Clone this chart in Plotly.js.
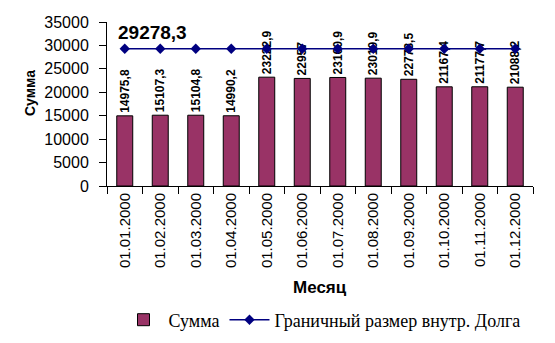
<!DOCTYPE html>
<html>
<head>
<meta charset="utf-8">
<script src="https://cdn.plot.ly/plotly-3.0.1.min.js"></script>
<style>html,body{margin:0;padding:0;background:#fff;}#chart{width:555px;height:343px;}</style>
</head>
<body>
<div id="chart"></div>
<script>
var months = ["01.01.2000","01.02.2000","01.03.2000","01.04.2000","01.05.2000","01.06.2000","01.07.2000","01.08.2000","01.09.2000","01.10.2000","01.11.2000","01.12.2000"];
var sums = [14975.8, 15107.3, 15104.8, 14990.2, 23222.9, 22957, 23160.9, 23010.9, 22773.5, 21167.4, 21177.7, 21088.2];
var sumLabels = ["14975,8","15107,3","15104,8","14990,2","23222,9","22957","23160,9","23010,9","22773,5","21167,4","21177,7","21088,2"];
var limitValues = [29278.3, 29278.3, 29278.3, 29278.3, 29278.3, 29278.3, 29278.3, 29278.3, 29278.3, 29278.3, 29278.3, 29278.3];
var limitLabel = "29278,3";
var yTicks = [0, 5000, 10000, 15000, 20000, 25000, 30000, 35000];

var traces = [
  {
    type: "bar", name: "Сумма", x: months, y: sums,
    text: sumLabels, textposition: "outside", textangle: -90,
    constraintext: "none",
    textfont: {family: "Liberation Sans, Arial", size: 12, color: "#000", weight: "bold"},
    cliponaxis: false,
    marker: {color: "#993366", line: {color: "#000", width: 1}}
  },
  {
    type: "scatter", mode: "lines+markers", name: "Граничный размер внутр. Долга",
    x: months, y: limitValues,
    line: {color: "#000080", width: 1.5},
    marker: {symbol: "diamond", size: 8, color: "#000080"},
    cliponaxis: false
  }
];

var L = 107, R = 22, T = 22, B = 157;
var pw = 555 - L - R, ph = 343 - T - B;
function px(x) { return (x - L) / pw; }
function py(y) { return (343 - B - y) / ph; }
var xr = [-0.5, months.length - 0.5];
var boundaries = [];
for (var i = 0; i <= months.length; i++) boundaries.push(i - 0.5);

var layout = {
  width: 555, height: 343,
  margin: {l: L, r: R, t: T, b: B, autoexpand: false},
  paper_bgcolor: "#fff", plot_bgcolor: "#fff",
  bargap: 0.55,
  showlegend: true,
  font: {family: "Liberation Sans, Arial", color: "#000"},
  xaxis: {
    type: "category", automargin: false, range: xr,
    tickson: "boundaries", ticks: "outside", ticklen: 7, tickcolor: "#000",
    tickangle: -90, tickfont: {size: 15},
    showline: true, linecolor: "#000", linewidth: 1,
    showgrid: false, zeroline: false
  },
  xaxis2: {
    overlaying: "x", type: "linear", range: xr, tickvals: boundaries,
    ticks: "inside", ticklen: 6, tickcolor: "#000", showticklabels: false,
    showline: false, showgrid: false, zeroline: false, side: "bottom", automargin: false
  },
  yaxis: {
    automargin: false,
    range: [0, 35000], tickvals: yTicks, ticktext: yTicks.map(String),
    ticks: "outside", ticklen: 7, tickcolor: "#000", tickfont: {size: 16},
    ticklabelstandoff: 7,
    showline: true, linecolor: "#000", linewidth: 1,
    showgrid: false, zeroline: false
  },
  yaxis2: {
    overlaying: "y", range: [0, 35000], tickvals: yTicks,
    ticks: "inside", ticklen: 6, tickcolor: "#000", showticklabels: false,
    showline: false, showgrid: false, zeroline: false, side: "left", automargin: false
  },
  legend: {
    orientation: "h", x: px(322), xanchor: "center", y: py(320), yanchor: "middle",
    font: {family: "Liberation Serif, Times New Roman", size: 18},
    itemwidth: 40
  },
  annotations: [
    {
      x: months[0], y: limitValues[0], xref: "x", yref: "y",
      text: "<b>" + limitLabel + "</b>", showarrow: false,
      xanchor: "left", yanchor: "middle", xshift: -9, yshift: 16,
      font: {size: 19, color: "#000"}
    },
    {
      x: px(30), y: py(93), xref: "paper", yref: "paper", text: "<b>Сумма</b>",
      showarrow: false, textangle: -90, font: {size: 14, color: "#000"},
      xanchor: "center", yanchor: "middle"
    },
    {
      x: px(320), y: py(287), xref: "paper", yref: "paper", text: "<b>Месяц</b>",
      showarrow: false, font: {size: 17, color: "#000"},
      xanchor: "center", yanchor: "middle"
    }
  ]
};

Plotly.newPlot("chart", traces, layout, {displayModeBar: false, staticPlot: true});
</script>
</body>
</html>
